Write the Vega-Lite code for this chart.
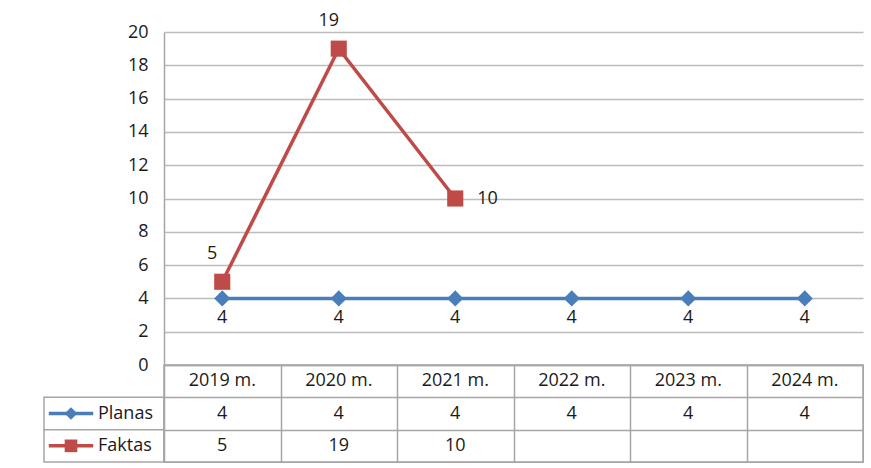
{
  "$schema": "https://vega.github.io/schema/vega-lite/v6.json",
  "padding": {"left": 43, "top": 11, "right": 0, "bottom": 0},
  "background": "white",
  "config": {
    "font": "Open Sans",
    "view": {"stroke": "#a6a6a6", "strokeWidth": 1.5},
    "text": {"fontSize": 18, "color": "#1a1a1a", "font": "Open Sans"},
    "axis": {"labelFont": "Open Sans", "labelFontSize": 18, "labelColor": "#1a1a1a"}
  },
  "datasets": {
    "vals": [
      {"year": "2019 m.", "series": "Planas", "value": 4},
      {"year": "2020 m.", "series": "Planas", "value": 4},
      {"year": "2021 m.", "series": "Planas", "value": 4},
      {"year": "2022 m.", "series": "Planas", "value": 4},
      {"year": "2023 m.", "series": "Planas", "value": 4},
      {"year": "2024 m.", "series": "Planas", "value": 4},
      {"year": "2019 m.", "series": "Faktas", "value": 5},
      {"year": "2020 m.", "series": "Faktas", "value": 19},
      {"year": "2021 m.", "series": "Faktas", "value": 10}
    ]
  },
  "columns": 2,
  "spacing": 0,
  "bounds": "flush",
  "concat": [
    {
      "width": 120, "height": 333,
      "view": {"stroke": null},
      "data": {"values": []},
      "mark": "point",
      "encoding": {}
    },
    {
      "width": 699, "height": 333,
      "view": {"stroke": null},
      "data": {"name": "vals"},
      "encoding": {
        "x": {"field": "year", "type": "nominal", "scale": {"type": "point", "padding": 0.5}, "axis": null},
        "y": {"field": "value", "type": "quantitative",
              "scale": {"domain": [0, 20], "nice": false},
              "axis": {"values": [0, 2, 4, 6, 8, 10, 12, 14, 16, 18, 20], "title": null, "grid": true, "gridColor": "#bdbdbd", "gridWidth": 1.5, "domain": true, "domainColor": "#a6a6a6", "domainWidth": 1.5, "ticks": false, "labelPadding": 16, "labelOverlap": false, "labelFlush": false}}
      },
      "layer": [
        {
          "mark": {"type": "line", "strokeWidth": 3.5},
          "encoding": {
            "color": {"field": "series", "type": "nominal", "scale": {"domain": ["Planas", "Faktas"], "range": ["#4A7EBB", "#BE4B48"]}, "legend": null}
          }
        },
        {
          "mark": {"type": "point", "filled": true, "opacity": 1, "size": 260},
          "encoding": {
            "color": {"field": "series", "type": "nominal", "scale": {"domain": ["Planas", "Faktas"], "range": ["#4A7EBB", "#BE4B48"]}, "legend": null},
            "shape": {"field": "series", "type": "nominal", "scale": {"domain": ["Planas", "Faktas"], "range": ["diamond", "square"]}, "legend": null}
          }
        },
        {
          "transform": [{"filter": "datum.series === 'Planas'"}],
          "mark": {"type": "text", "baseline": "middle", "dy": 20},
          "encoding": {
            "text": {"field": "value"}
          }
        },
        {
          "transform": [{"filter": "datum.series === 'Faktas' && datum.year !== '2021 m.'"}],
          "mark": {"type": "text", "baseline": "middle", "dy": -28, "dx": -10},
          "encoding": {
            "text": {"field": "value"}
          }
        },
        {
          "transform": [{"filter": "datum.series === 'Faktas' && datum.year === '2021 m.'"}],
          "mark": {"type": "text", "baseline": "middle", "align": "left", "dx": 22},
          "encoding": {
            "text": {"field": "value"}
          }
        }
      ]
    },
    {
      "width": 120, "height": 97,
      "view": {"stroke": null},
      "data": {"name": "vals"},
      "transform": [{"filter": "datum.year === '2019 m.'"}],
      "layer": [
        {
          "mark": {"type": "rect", "fill": "white", "stroke": "#a6a6a6", "strokeWidth": 1.5},
          "encoding": {
            "y": {"field": "series", "type": "nominal", "scale": {"domain": ["hdr", "Planas", "Faktas"], "paddingInner": 0, "paddingOuter": 0}, "axis": null},
            "x": {"datum": 0, "type": "quantitative", "scale": {"domain": [0, 1], "nice": false}, "axis": null},
            "x2": {"datum": 1}
          }
        },
        {
          "mark": {"type": "rule", "strokeWidth": 3.5},
          "encoding": {
            "y": {"field": "series", "type": "nominal", "bandPosition": 0.5},
            "x": {"datum": 0.04, "type": "quantitative"},
            "x2": {"datum": 0.41},
            "color": {"field": "series", "type": "nominal", "scale": {"domain": ["Planas", "Faktas"], "range": ["#4A7EBB", "#BE4B48"]}, "legend": null}
          }
        },
        {
          "mark": {"type": "point", "filled": true, "opacity": 1, "size": 160},
          "encoding": {
            "y": {"field": "series", "type": "nominal"},
            "x": {"datum": 0.225, "type": "quantitative"},
            "color": {"field": "series", "type": "nominal", "scale": {"domain": ["Planas", "Faktas"], "range": ["#4A7EBB", "#BE4B48"]}, "legend": null},
            "shape": {"field": "series", "type": "nominal", "scale": {"domain": ["Planas", "Faktas"], "range": ["diamond", "square"]}, "legend": null}
          }
        },
        {
          "mark": {"type": "text", "align": "left", "baseline": "middle"},
          "encoding": {
            "y": {"field": "series", "type": "nominal"},
            "x": {"datum": 0.45, "type": "quantitative"},
            "text": {"field": "series"}
          }
        }
      ]
    },
    {
      "width": 699, "height": 97,
      "data": {"name": "vals"},
      "encoding": {
        "x": {"field": "year", "type": "nominal", "scale": {"type": "band", "paddingInner": 0, "paddingOuter": 0},
              "axis": {"title": null, "labels": false, "ticks": false, "domain": false, "grid": true, "tickBand": "extent", "gridColor": "#a6a6a6", "gridWidth": 1.5}}
      },
      "layer": [
        {
          "transform": [{"filter": "datum.series === 'Planas'"}],
          "mark": {"type": "text", "baseline": "middle"},
          "encoding": {
            "y": {"datum": "hdr", "type": "nominal",
                  "scale": {"domain": ["hdr", "Planas", "Faktas"], "type": "band", "paddingInner": 0, "paddingOuter": 0},
                  "axis": {"title": null, "labels": false, "ticks": false, "domain": false, "grid": true, "tickBand": "extent", "gridColor": "#a6a6a6", "gridWidth": 1.5}},
            "text": {"field": "year"}
          }
        },
        {
          "mark": {"type": "text", "baseline": "middle"},
          "encoding": {
            "y": {"field": "series", "type": "nominal"},
            "text": {"field": "value"}
          }
        }
      ]
    }
  ]
}
